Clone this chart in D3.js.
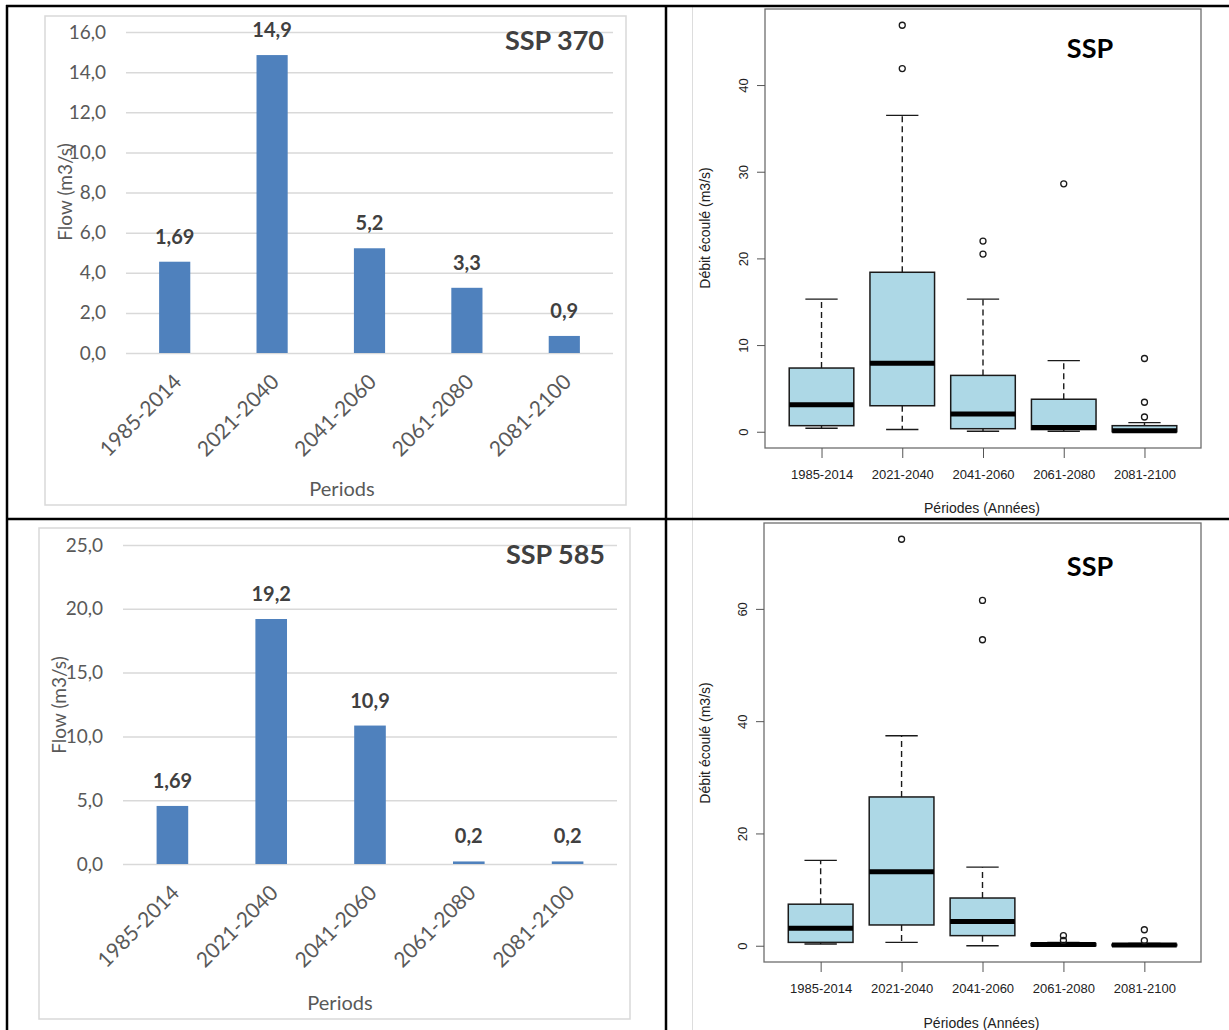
<!DOCTYPE html>
<html>
<head>
<meta charset="utf-8">
<script src="https://cdn.jsdelivr.net/npm/d3@7"></script>
<style>
  html, body { margin: 0; padding: 0; background: #fff; }
  svg { display: block; }
</style>
</head>
<body>
<svg id="chart" width="1229" height="1030"></svg>
<script>
// ---------- DATA ----------
const periods = ["1985-2014", "2021-2040", "2041-2060", "2061-2080", "2081-2100"];

// Bar charts (bar heights as drawn, labels as printed)
const ssp370Values = [4.55, 14.85, 5.22, 3.25, 0.85];
const ssp370Labels = ["1,69", "14,9", "5,2", "3,3", "0,9"];
const ssp370Ticks = [0, 2, 4, 6, 8, 10, 12, 14, 16];

const ssp585Values = [4.55, 19.2, 10.85, 0.2, 0.2];
const ssp585Labels = ["1,69", "19,2", "10,9", "0,2", "0,2"];
const ssp585Ticks = [0, 5, 10, 15, 20, 25];

// Box plots: [lower whisker, Q1, median, Q3, upper whisker]
const box370Stats = [
  [0.4, 0.7, 3.1, 7.35, 15.3],
  [0.25, 3.0, 7.9, 18.4, 36.5],
  [0.05, 0.35, 2.05, 6.5, 15.3],
  [0.05, 0.25, 0.5, 3.75, 8.2],
  [0.0, 0.0, 0.1, 0.7, 1.05]
];
const box370Outliers = [[], [41.9, 46.9], [20.5, 22.0], [28.6], [1.7, 3.4, 8.45]];
const box370Ticks = [0, 10, 20, 30, 40];

const box585Stats = [
  [0.3, 0.6, 3.1, 7.4, 15.2],
  [0.6, 3.7, 13.2, 26.5, 37.4],
  [0.0, 1.8, 4.3, 8.5, 14.0],
  [0.0, 0.0, 0.2, 0.4, 0.6],
  [0.0, 0.0, 0.15, 0.25, 0.4]
];
const box585Outliers = [[], [72.4], [54.5, 61.5], [0.95, 1.8], [0.9, 2.85]];
const box585Ticks = [0, 20, 40, 60];

const excelFont = "Lato, 'Open Sans', sans-serif";
const rFont = "'Liberation Sans', Arial, sans-serif";

const svg = d3.select("#chart");

// ---------- BAR PANEL ----------
function barPanel(cfg) {
  const g = svg.append("g");
  g.append("rect")
    .attr("x", cfg.frame[0]).attr("y", cfg.frame[1])
    .attr("width", cfg.frame[2] - cfg.frame[0]).attr("height", cfg.frame[3] - cfg.frame[1])
    .attr("fill", "#fff").attr("stroke", "#d9d9d9").attr("stroke-width", 1.5);

  const x = d3.scaleBand().domain(periods).range([cfg.x0, cfg.x1])
    .paddingInner(0.68).paddingOuter(0.34);
  const y = d3.scaleLinear().domain([0, d3.max(cfg.ticks)]).range([cfg.yBottom, cfg.yTop]);

  const yAxis = d3.axisLeft(y).tickValues(cfg.ticks)
    .tickSizeInner(-(cfg.x1 - cfg.x0)).tickSizeOuter(0).tickPadding(20)
    .tickFormat(d => d.toFixed(1).replace(".", ","));
  const ya = g.append("g").attr("transform", `translate(${cfg.x0},0)`).call(yAxis);
  ya.select(".domain").remove();
  ya.selectAll(".tick line").attr("stroke", "#d9d9d9").attr("stroke-width", 1.5);
  ya.selectAll(".tick text").attr("fill", "#595959")
    .style("font-family", excelFont).style("font-size", "19px");

  g.selectAll("rect.bar").data(cfg.values).enter().append("rect")
    .attr("class", "bar")
    .attr("x", (d, i) => x(periods[i]))
    .attr("width", x.bandwidth())
    .attr("y", d => y(d))
    .attr("height", d => y(0) - y(d))
    .attr("fill", "#4f81bd");

  g.selectAll("text.dl").data(cfg.labels).enter().append("text")
    .attr("class", "dl")
    .attr("x", (d, i) => x(periods[i]) + x.bandwidth() / 2)
    .attr("y", (d, i) => y(cfg.values[i]) - 18)
    .attr("text-anchor", "middle")
    .attr("fill", "#404040")
    .style("font-family", excelFont).style("font-size", "20px").style("font-weight", "bold")
    .text(d => d);

  const xAxis = d3.axisBottom(x).tickSize(0).tickPadding(0);
  const xa = g.append("g").attr("transform", `translate(0,${cfg.yBottom})`).call(xAxis);
  xa.select(".domain").remove();
  xa.selectAll(".tick text")
    .attr("fill", "#595959")
    .style("font-family", excelFont).style("font-size", "21px")
    .attr("text-anchor", "end")
    .attr("dy", "0.35em")
    .attr("transform", "translate(3,25) rotate(-45)");

  g.append("text")
    .attr("x", cfg.xTitle[0]).attr("y", cfg.xTitle[1])
    .attr("text-anchor", "middle").attr("dominant-baseline", "central")
    .attr("fill", "#595959")
    .style("font-family", excelFont).style("font-size", "20px")
    .text("Periods");

  g.append("text")
    .attr("transform", `translate(${cfg.yTitle[0]},${cfg.yTitle[1]}) rotate(-90)`)
    .attr("text-anchor", "middle").attr("dominant-baseline", "central")
    .attr("fill", "#595959")
    .style("font-family", excelFont).style("font-size", "19px")
    .text("Flow (m3/s)");

  g.append("text")
    .attr("x", cfg.title[0]).attr("y", cfg.title[1])
    .attr("text-anchor", "end").attr("dominant-baseline", "central")
    .attr("fill", "#404040")
    .style("font-family", excelFont).style("font-size", "27px").style("font-weight", "bold")
    .text(cfg.titleText);
}

barPanel({
  frame: [45, 16, 626, 505], x0: 126, x1: 613, yTop: 32, yBottom: 353,
  values: ssp370Values, labels: ssp370Labels, ticks: ssp370Ticks,
  xTitle: [342, 488], yTitle: [64, 192], title: [604, 39], titleText: "SSP 370"
});
barPanel({
  frame: [39, 528, 630, 1019], x0: 123, x1: 617, yTop: 545, yBottom: 864,
  values: ssp585Values, labels: ssp585Labels, ticks: ssp585Ticks,
  xTitle: [340, 1002], yTitle: [58, 705], title: [605, 553], titleText: "SSP 585"
});

// ---------- BOX PANEL ----------
function boxPanel(cfg) {
  const g = svg.append("g");
  const all = cfg.stats.flat().concat(cfg.outliers.flat());
  const lo = d3.min(all), hi = d3.max(all), ext = (hi - lo) * 0.04;
  const y = d3.scaleLinear().domain([lo - ext, hi + ext]).range([cfg.bottom, cfg.top]);
  const n = periods.length;
  const x = d3.scaleLinear().domain([0.5 - 0.04 * n, n + 0.5 + 0.04 * n]).range([cfg.left, cfg.right]);
  const bw = 0.4;
  const ink = "#1a1a1a";

  g.append("rect")
    .attr("x", cfg.left).attr("y", cfg.top)
    .attr("width", cfg.right - cfg.left).attr("height", cfg.bottom - cfg.top)
    .attr("fill", "none").attr("stroke", "#6e6e6e").attr("stroke-width", 1.3);

  const yAxis = d3.axisLeft(y).tickValues(cfg.ticks).tickSize(8).tickPadding(10);
  const ya = g.append("g").attr("transform", `translate(${cfg.left},0)`).call(yAxis);
  ya.select(".domain").remove();
  ya.selectAll(".tick line").attr("stroke", "#555");
  ya.selectAll(".tick text")
    .style("font-family", rFont).style("font-size", "13px").attr("fill", "#222")
    .attr("text-anchor", "middle").attr("dy", null).attr("x", null)
    .attr("transform", "translate(-22,0) rotate(-90)")
    .attr("dominant-baseline", "central");

  const xAxis = d3.axisBottom(x).tickValues(d3.range(1, n + 1)).tickSize(10).tickPadding(12)
    .tickFormat(i => periods[i - 1]);
  const xa = g.append("g").attr("transform", `translate(0,${cfg.bottom})`).call(xAxis);
  xa.select(".domain").remove();
  xa.selectAll(".tick line").attr("stroke", "#555");
  xa.selectAll(".tick text")
    .style("font-family", rFont).style("font-size", "13px").attr("fill", "#222");

  cfg.stats.forEach((s, i) => {
    const c = i + 1;
    const [wl, q1, md, q3, wh] = s;
    g.append("line").attr("x1", x(c)).attr("x2", x(c)).attr("y1", y(q3)).attr("y2", y(wh))
      .attr("stroke", ink).attr("stroke-width", 1.4).attr("stroke-dasharray", "6,4");
    g.append("line").attr("x1", x(c)).attr("x2", x(c)).attr("y1", y(q1)).attr("y2", y(wl))
      .attr("stroke", ink).attr("stroke-width", 1.4).attr("stroke-dasharray", "6,4");
    [wl, wh].forEach(v => {
      g.append("line").attr("x1", x(c - bw / 2)).attr("x2", x(c + bw / 2))
        .attr("y1", y(v)).attr("y2", y(v)).attr("stroke", ink).attr("stroke-width", 1.4);
    });
    g.append("rect")
      .attr("x", x(c - bw)).attr("width", x(c + bw) - x(c - bw))
      .attr("y", y(q3)).attr("height", Math.max(0.1, y(q1) - y(q3)))
      .attr("fill", "#add8e6").attr("stroke", ink).attr("stroke-width", 1.5);
    g.append("line").attr("x1", x(c - bw)).attr("x2", x(c + bw))
      .attr("y1", y(md)).attr("y2", y(md))
      .attr("stroke", "#000").attr("stroke-width", 5);
    cfg.outliers[i].forEach(v => {
      g.append("circle").attr("cx", x(c)).attr("cy", y(v)).attr("r", 3)
        .attr("fill", "none").attr("stroke", ink).attr("stroke-width", 1.3);
    });
  });

  g.append("text")
    .attr("x", (cfg.left + cfg.right) / 2 - 1).attr("y", cfg.xTitleY)
    .attr("text-anchor", "middle").attr("dominant-baseline", "central")
    .style("font-family", rFont).style("font-size", "14px").attr("fill", "#222")
    .text("Périodes (Années)");
  g.append("text")
    .attr("transform", `translate(705,${cfg.yTitleY}) rotate(-90)`)
    .attr("text-anchor", "middle").attr("dominant-baseline", "central")
    .style("font-family", rFont).style("font-size", "14px").attr("fill", "#222")
    .text("Débit écoulé (m3/s)");
  g.append("text")
    .attr("x", 1090).attr("y", cfg.sspY)
    .attr("text-anchor", "middle").attr("dominant-baseline", "central")
    .style("font-family", excelFont).style("font-size", "27px").style("font-weight", "bold")
    .attr("fill", "#000")
    .text("SSP");
}

boxPanel({ left: 765, right: 1201, top: 9, bottom: 448, stats: box370Stats, outliers: box370Outliers,
  ticks: box370Ticks, xTitleY: 508, yTitleY: 228, sspY: 47 });
boxPanel({ left: 764, right: 1201, top: 523, bottom: 962, stats: box585Stats, outliers: box585Outliers,
  ticks: box585Ticks, xTitleY: 1023, yTitleY: 743, sspY: 565 });

// ---------- TABLE GRID ----------
const grid = svg.append("g");
grid.append("line").attr("x1", 692.5).attr("x2", 692.5).attr("y1", 6).attr("y2", 1030)
  .attr("stroke", "#dddddd").attr("stroke-width", 1);
[[6, 6, 1229, 6], [7, 5, 7, 1030], [666, 5, 666, 1030], [6, 519, 1229, 519]].forEach(l => {
  grid.append("line").attr("x1", l[0]).attr("y1", l[1]).attr("x2", l[2]).attr("y2", l[3])
    .attr("stroke", "#000").attr("stroke-width", 2.5);
});
</script>
</body>
</html>
